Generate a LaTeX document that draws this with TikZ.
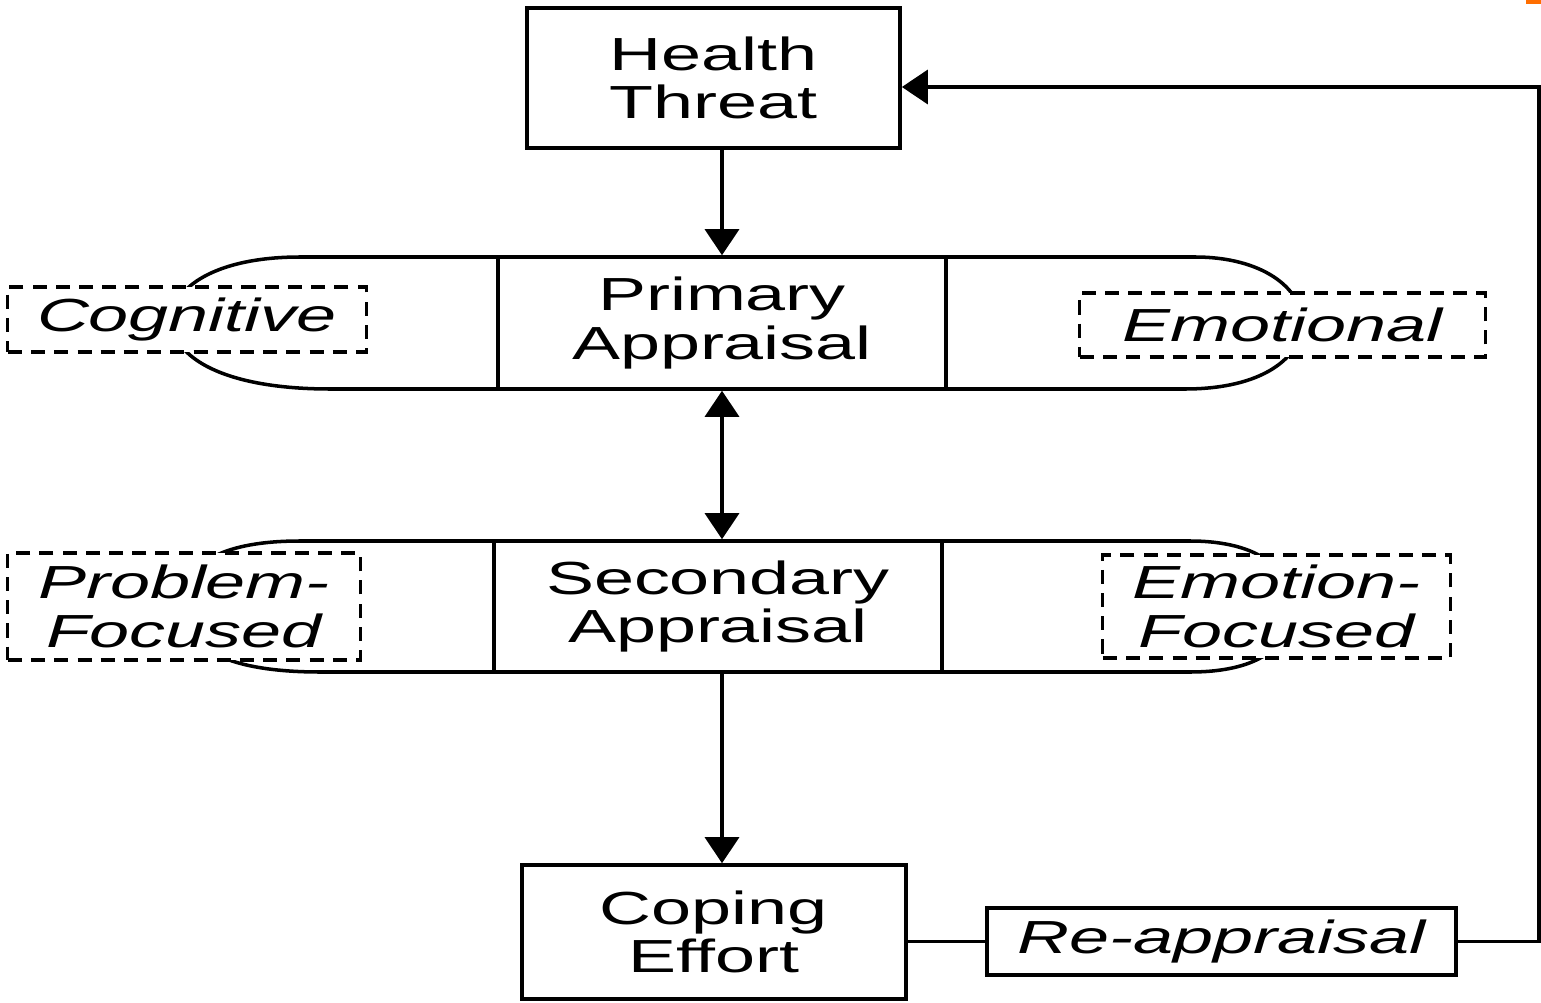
\documentclass[tikz,border=0pt]{standalone}
\usepackage{fontspec}
\setmainfont{Liberation Sans}
\newfontfamily\labfont[FakeStretch=1.55]{Liberation Sans}
\usetikzlibrary{arrows.meta,calc}
\definecolor{markorange}{RGB}{255,110,0}
\begin{document}
\begin{tikzpicture}[x=0.01cm,y=-0.01cm,
  box/.style={draw,line width=1pt,inner sep=0pt,align=center,font=\labfont\fontsize{13.2}{13.7}\selectfont},
  dbox/.style={draw,line width=0.9pt,dash pattern=on 4pt off 2.6pt,fill=white,inner sep=0pt,align=center,font=\labfont\itshape\fontsize{13.2}{13.7}\selectfont},
  side/.style={line width=1pt},
  con/.style={line width=1pt},
  arr/.style={con,-{Triangle[length=0.26cm,width=0.34cm]}},
  darr/.style={con,{Triangle[length=0.26cm,width=0.34cm]}-{Triangle[length=0.26cm,width=0.34cm]}},
]
\useasboundingbox (0,0) rectangle (1541,1003);
\fill[markorange] (1526,0) rectangle (1541,4);

% side extensions (capsule ends)
\draw[side] (498,257) -- (300,257) .. controls (215,257) and (172,288) .. (172,320)
  .. controls (172,358) and (225,389) .. (330,389) -- (498,389);
\draw[side] (946,257) -- (1195,257) .. controls (1262,257) and (1302,288) .. (1302,322)
  .. controls (1302,358) and (1262,389) .. (1185,389) -- (946,389);
\draw[side] (494,541) -- (300,541) .. controls (225,541) and (182,562) .. (182,606)
  .. controls (182,650) and (232,672) .. (320,672) -- (494,672);
\draw[side] (942,541) -- (1190,541) .. controls (1262,541) and (1292,572) .. (1292,606)
  .. controls (1292,644) and (1262,672) .. (1190,672) -- (942,672);

% dashed labels
\node[dbox,minimum width=3.58cm,minimum height=0.65cm] (cog) at (187,319.5) {Cognitive};
\node[dbox,minimum width=4.05cm,minimum height=0.64cm] (emo) at (1282.5,325) {Emotional};
\node[dbox,minimum width=3.52cm,minimum height=1.07cm] (prob) at (184,606.5) {Problem-\\Focused};
\node[dbox,minimum width=3.47cm,minimum height=1.03cm] (emof) at (1276.5,606.5) {Emotion-\\Focused};

% main boxes
\node[box,minimum width=3.73cm,minimum height=1.40cm] (ht) at (713.5,78) {Health\\Threat};
\node[box,minimum width=4.48cm,minimum height=1.32cm] (prim) at (722,323) {Primary\\Appraisal};
\node[box,minimum width=4.48cm,minimum height=1.31cm] (sec) at (718,606.5) {Secondary\\Appraisal};
\node[box,minimum width=3.84cm,minimum height=1.34cm] (cop) at (714,932) {Coping\\Effort};
\node[box,font=\labfont\itshape\fontsize{13.2}{13.7}\selectfont,minimum width=4.69cm,minimum height=0.67cm] (reap) at (1221.5,941.5) {Re-appraisal};

% connectors
\draw[arr] (ht.south -| prim.south) -- (prim.north);
\draw[darr] (prim.south) -- (prim.south |- sec.north);
\draw[arr] (sec.south -| prim.south) -- (prim.south |- cop.north);
\draw[con] (cop.east |- reap.west) -- (reap.west);
\coordinate (corner) at (1539,941.5);
\draw[arr] (reap.east) -- (corner) |- ($(ht.east)+(0,9)$);
\end{tikzpicture}
\end{document}
